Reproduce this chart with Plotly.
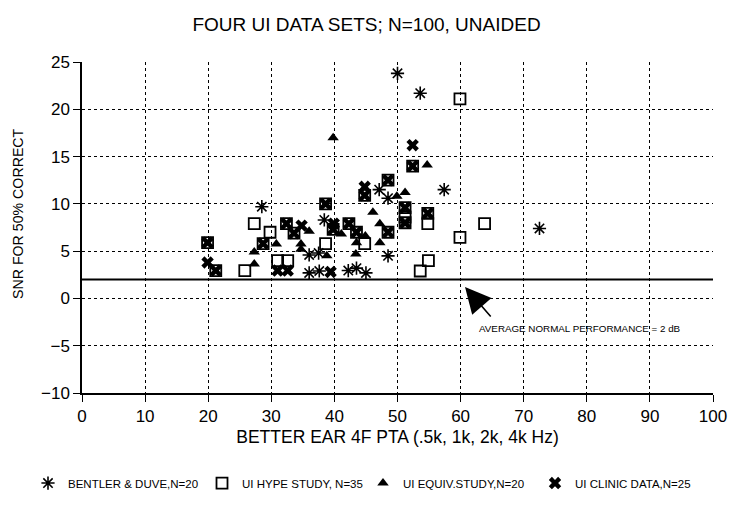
import plotly.graph_objects as go

# ---- data ----
bentler_x = [28.5, 36.0, 37.5, 36.0, 37.6, 38.4, 42.2, 43.5, 45.0, 47.1, 48.5, 48.5, 50.0, 53.6, 57.4, 72.5]
bentler_y = [9.7, 4.6, 4.8, 2.7, 2.9, 8.3, 2.95, 3.2, 2.7, 11.5, 10.6, 4.5, 23.8, 21.7, 11.5, 7.4]

hype_only_x = [27.3, 29.8, 25.8, 31.0, 32.6, 38.6, 44.8, 51.2, 54.8, 63.8, 59.9, 54.9, 53.6, 59.9]
hype_only_y = [7.9, 7.0, 2.95, 4.0, 4.0, 5.8, 5.8, 8.6, 7.9, 7.9, 6.45, 4.0, 2.9, 21.1]

# points where a UI HYPE square and a UI CLINIC X coincide
shared_x = [19.9, 21.2, 28.7, 32.4, 33.6, 38.6, 39.8, 42.3, 43.5, 44.8, 48.5, 48.5, 51.2, 51.2, 52.4, 54.8]
shared_y = [5.9, 2.95, 5.8, 7.9, 6.9, 10.0, 7.3, 7.9, 7.0, 10.9, 12.5, 7.0, 9.6, 8.0, 14.0, 9.0]

clinic_only_x = [19.9, 31.0, 32.6, 34.8, 39.4, 39.9, 44.8, 52.4]
clinic_only_y = [3.8, 2.95, 2.95, 7.7, 2.8, 7.9, 11.8, 16.2]

equiv_x = [39.8, 54.7, 49.9, 51.2, 46.1, 47.2, 36.0, 41.1, 44.9, 30.8, 34.7, 34.7, 43.5, 47.2, 27.3, 43.4, 38.8, 27.3]
equiv_y = [17.0, 14.1, 10.8, 11.2, 9.1, 7.9, 7.1, 6.8, 6.6, 5.75, 5.75, 5.2, 5.9, 5.9, 4.9, 4.7, 4.5, 3.65]

normal_perf = 2
x_ticks = [0, 10, 20, 30, 40, 50, 60, 70, 80, 90, 100]
y_ticks = [-10, -5, 0, 5, 10, 15, 20, 25]

FONT = "Liberation Sans, Arial, sans-serif"

fig = go.Figure()

fig.add_trace(go.Scatter(
    x=bentler_x, y=bentler_y, mode="markers", name="BENTLER & DUVE,N=20", legend="legend",
    marker=dict(symbol="asterisk-open", size=11, color="black", line=dict(width=1.6, color="black"))))
fig.add_trace(go.Scatter(
    x=hype_only_x + shared_x, y=hype_only_y + shared_y, mode="markers", name="UI HYPE STUDY, N=35",
    legend="legend2",
    marker=dict(symbol="square-open", size=11, color="black", line=dict(width=1.8, color="black"))))
fig.add_trace(go.Scatter(
    x=equiv_x, y=equiv_y, mode="markers", name="UI EQUIV.STUDY,N=20", legend="legend3",
    marker=dict(symbol="triangle-up", size=10, color="black", line=dict(width=0))))
fig.add_trace(go.Scatter(
    x=clinic_only_x + shared_x, y=clinic_only_y + shared_y, mode="markers", name="UI CLINIC DATA,N=25",
    legend="legend4",
    marker=dict(symbol="x", size=11, color="black", line=dict(width=0))))

# average normal performance line
fig.add_trace(go.Scatter(
    x=[x_ticks[0], x_ticks[-1]], y=[normal_perf, normal_perf], mode="lines",
    line=dict(color="black", width=2), showlegend=False, hoverinfo="skip"))

axis_common = dict(
    showline=True, linecolor="black", linewidth=1.5,
    ticks="outside", ticklen=7, tickcolor="black", tickwidth=1.2,
    showgrid=True, gridcolor="black", griddash="3px,3px", gridwidth=1.4,
    zeroline=False, tickfont=dict(family=FONT, size=17, color="black"),
    automargin=False,
)

fig.update_xaxes(range=[0, 100], tickvals=x_ticks,
                 title=dict(text="BETTER EAR 4F PTA (.5k, 1k, 2k, 4k Hz)",
                            font=dict(family=FONT, size=17.5, color="black"), standoff=6),
                 **axis_common)
fig.update_yaxes(range=[-10, 25], tickvals=y_ticks, **axis_common)

# y-axis title (placed slightly above centre, as in the reference)
fig.add_annotation(x=-64 / 631, y=(393 - 214) / 331, xref="paper", yref="paper",
                   text="SNR FOR 50% CORRECT", textangle=-90, showarrow=False,
                   xanchor="center", yanchor="middle",
                   font=dict(family=FONT, size=14.2, color="black"))

fig.add_annotation(x=60.7, y=1.2, xref="x", yref="y", text="", showarrow=True,
                   ax=27, ay=31, arrowhead=2, arrowsize=3.2, arrowwidth=1.6, arrowcolor="black")
fig.add_annotation(x=79, y=-3.2, xref="x", yref="y",
                   text="AVERAGE NORMAL PERFORMANCE = 2 dB", showarrow=False,
                   font=dict(family=FONT, size=9.8, color="black"))

legend_font = dict(family=FONT, size=11.5, color="black")
leg_y = -0.272
def leg(xpx):
    return dict(orientation="h", x=(xpx - 82) / 631, xanchor="left", y=leg_y, yanchor="middle",
                font=legend_font, bgcolor="rgba(0,0,0,0)")

fig.update_layout(
    width=733, height=508,
    margin=dict(l=82, r=20, t=62, b=115, autoexpand=False),
    paper_bgcolor="white", plot_bgcolor="white",
    title=dict(text="FOUR UI DATA SETS; N=100, UNAIDED", x=0.5, xanchor="center",
               y=0.952, yanchor="middle", automargin=False,
               font=dict(family=FONT, size=19, color="black")),
    legend=leg(28), legend2=leg(202), legend3=leg(363), legend4=leg(535),
    showlegend=True,
)

fig.write_html("out.html", config={"displayModeBar": False},
               post_script="document.body.style.margin='0';")
